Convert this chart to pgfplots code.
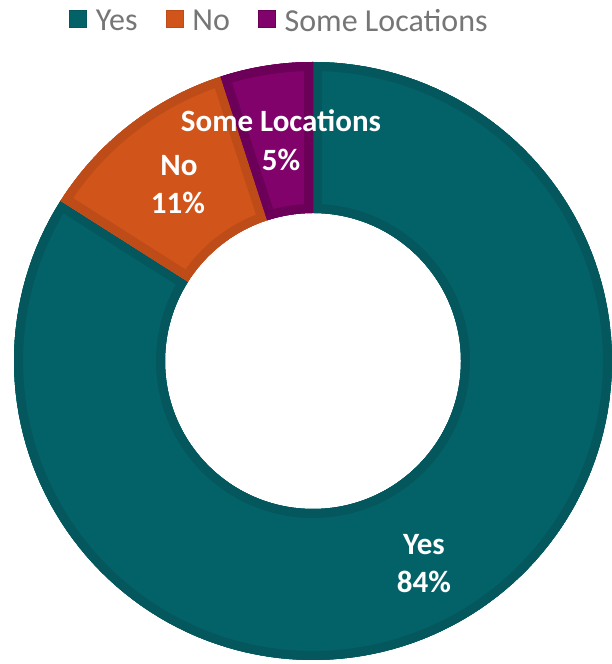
\documentclass[border=0pt]{standalone}
\usepackage{pgfplots}
\pgfplotsset{compat=1.18}
\usepackage{pgfplotstable}
\usepackage{fontspec}
\setmainfont{Carlito}

\definecolor{yesfill}{RGB}{3,98,104}
\definecolor{yesedge}{RGB}{4,87,92}
\definecolor{nofill}{RGB}{209,84,26}
\definecolor{noedge}{RGB}{190,76,25}
\definecolor{somefill}{RGB}{128,2,106}
\definecolor{someedge}{RGB}{108,0,88}
\definecolor{legendtext}{RGB}{118,118,118}

% shares in percent, clockwise from 12 o'clock
\pgfplotstableread{
label share
Yes 84
No 11
Some 5
}\shares

\pgfplotstablegetelem{0}{share}\of\shares \let\sYes\pgfplotsretval
\pgfplotstablegetelem{1}{share}\of\shares \let\sNo\pgfplotsretval
\pgfplotstablegetelem{2}{share}\of\shares \let\sSome\pgfplotsretval
\pgfmathsetmacro\aYes{90-3.6*\sYes}
\pgfmathsetmacro\aNo{\aYes-3.6*\sNo}
\pgfmathsetmacro\aSome{\aNo-3.6*\sSome}

% ring segment: #1 start angle, #2 end angle, #3 fill, #4 inner border
\newcommand{\ring}[4]{%
  \addplot[forget plot, fill=#3, draw=none, domain=#1:#2, samples=150,
    postaction={clip, postaction={draw=#4, line width=18bp}}]
    ({313+299*cos(x)},{303+299*sin(x)})
    -- ({313+148*cos(#2)},{303+148*sin(#2)})
    arc[start angle=#2, end angle=#1, radius=148bp] -- cycle;
}

\begin{document}
\begin{tikzpicture}
\begin{axis}[
  width=612bp, height=664bp, scale only axis,
  xmin=0, xmax=612, ymin=0, ymax=664,
  hide axis,
  legend columns=-1,
  legend cell align=left,
  legend image code/.code={\draw[#1, line width=0.8bp] (0bp,-7bp) rectangle (17bp,10bp);},
  legend style={at={(axis cs:69,655)}, anchor=north west,
    draw=none, fill=none, inner sep=0pt, outer sep=0pt,
    font=\fontsize{32bp}{38bp}\selectfont, text=legendtext,
    nodes={inner sep=0pt, outer sep=0pt},
    /tikz/every odd column/.append style={column sep=9bp},
    /tikz/every even column/.append style={column sep=28bp}},
]
\addlegendimage{fill=yesfill, draw=yesedge}
\addlegendentry{Yes}
\addlegendimage{fill=nofill, draw=noedge}
\addlegendentry{No}
\addlegendimage{fill=somefill, draw=someedge}
\addlegendentry{Some Locations}

\ring{\aYes}{90}{yesfill}{yesedge}
\ring{\aNo}{\aYes}{nofill}{noedge}
\ring{\aSome}{\aNo}{somefill}{someedge}

\begin{scope}[every node/.style={font=\bfseries\fontsize{31bp}{37bp}\selectfont, text=white, anchor=base, inner sep=0pt}]
\node at (axis cs:281,532) {Some Locations};
\node at (axis cs:281,493) {5\%};
\node at (axis cs:179,488) {No};
\node at (axis cs:178,450) {11\%};
\node at (axis cs:424,109) {Yes};
\node at (axis cs:424,71) {84\%};
\end{scope}

\coordinate (bl) at (rel axis cs:0,0);
\coordinate (tr) at (rel axis cs:1,1);
\end{axis}
\pgfresetboundingbox
\path[use as bounding box] (bl) rectangle (tr);
\end{tikzpicture}
\end{document}
